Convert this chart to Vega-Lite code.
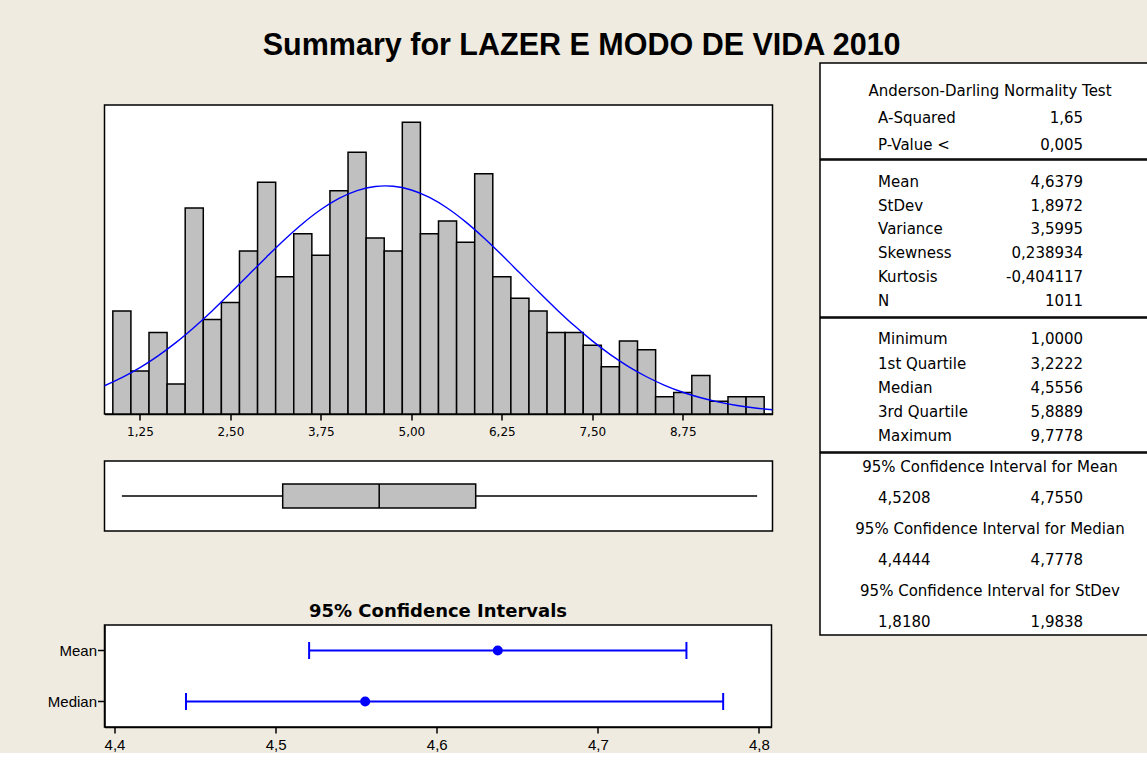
{
  "$schema": "https://vega.github.io/schema/vega-lite/v6.json",
  "background": "#EFEBE0",
  "padding": {"left": 46.5, "top": 30, "right": 0, "bottom": 0},
  "title": {"text": "Summary for LAZER E MODO DE VIDA 2010", "font": "Liberation Sans", "fontSize": 30.5, "fontWeight": "bold", "color": "black", "anchor": "middle", "offset": 1, "dx": -22},
  "config": {
    "view": {"stroke": "black", "strokeWidth": 1.5, "fill": "white"},
    "axis": {"grid": false, "domainColor": "black", "tickColor": "black", "labelColor": "black", "domainWidth": 1.5, "tickWidth": 1.5}
  },
  "datasets": {
    "hist": [
      {"bin_start": 0.875, "bin_end": 1.125, "count": 24},
      {"bin_start": 1.125, "bin_end": 1.375, "count": 10},
      {"bin_start": 1.375, "bin_end": 1.625, "count": 19},
      {"bin_start": 1.625, "bin_end": 1.875, "count": 7},
      {"bin_start": 1.875, "bin_end": 2.125, "count": 48},
      {"bin_start": 2.125, "bin_end": 2.375, "count": 22},
      {"bin_start": 2.375, "bin_end": 2.625, "count": 26},
      {"bin_start": 2.625, "bin_end": 2.875, "count": 38},
      {"bin_start": 2.875, "bin_end": 3.125, "count": 54},
      {"bin_start": 3.125, "bin_end": 3.375, "count": 32},
      {"bin_start": 3.375, "bin_end": 3.625, "count": 42},
      {"bin_start": 3.625, "bin_end": 3.875, "count": 37},
      {"bin_start": 3.875, "bin_end": 4.125, "count": 52},
      {"bin_start": 4.125, "bin_end": 4.375, "count": 61},
      {"bin_start": 4.375, "bin_end": 4.625, "count": 41},
      {"bin_start": 4.625, "bin_end": 4.875, "count": 38},
      {"bin_start": 4.875, "bin_end": 5.125, "count": 68},
      {"bin_start": 5.125, "bin_end": 5.375, "count": 42},
      {"bin_start": 5.375, "bin_end": 5.625, "count": 45},
      {"bin_start": 5.625, "bin_end": 5.875, "count": 40},
      {"bin_start": 5.875, "bin_end": 6.125, "count": 56},
      {"bin_start": 6.125, "bin_end": 6.375, "count": 32},
      {"bin_start": 6.375, "bin_end": 6.625, "count": 27},
      {"bin_start": 6.625, "bin_end": 6.875, "count": 24},
      {"bin_start": 6.875, "bin_end": 7.125, "count": 19},
      {"bin_start": 7.125, "bin_end": 7.375, "count": 19},
      {"bin_start": 7.375, "bin_end": 7.625, "count": 16},
      {"bin_start": 7.625, "bin_end": 7.875, "count": 11},
      {"bin_start": 7.875, "bin_end": 8.125, "count": 17},
      {"bin_start": 8.125, "bin_end": 8.375, "count": 15},
      {"bin_start": 8.375, "bin_end": 8.625, "count": 4},
      {"bin_start": 8.625, "bin_end": 8.875, "count": 5},
      {"bin_start": 8.875, "bin_end": 9.125, "count": 9},
      {"bin_start": 9.125, "bin_end": 9.375, "count": 3},
      {"bin_start": 9.375, "bin_end": 9.625, "count": 4},
      {"bin_start": 9.625, "bin_end": 9.875, "count": 4}
    ],
    "curve": [
      {"x": 0.76, "fit": 6.58}, {"x": 1.0, "fit": 8.46}, {"x": 1.25, "fit": 10.79}, {"x": 1.5, "fit": 13.54},
      {"x": 1.75, "fit": 16.68}, {"x": 2.0, "fit": 20.22}, {"x": 2.25, "fit": 24.07}, {"x": 2.5, "fit": 28.17},
      {"x": 2.75, "fit": 32.40}, {"x": 3.0, "fit": 36.61}, {"x": 3.25, "fit": 40.67}, {"x": 3.5, "fit": 44.40},
      {"x": 3.75, "fit": 47.64}, {"x": 4.0, "fit": 50.23}, {"x": 4.25, "fit": 52.05}, {"x": 4.5, "fit": 53.01},
      {"x": 4.64, "fit": 53.15}, {"x": 4.75, "fit": 53.06}, {"x": 5.0, "fit": 52.19}, {"x": 5.25, "fit": 50.46},
      {"x": 5.5, "fit": 47.94}, {"x": 5.75, "fit": 44.76}, {"x": 6.0, "fit": 41.07}, {"x": 6.25, "fit": 37.05},
      {"x": 6.5, "fit": 32.83}, {"x": 6.75, "fit": 28.60}, {"x": 7.0, "fit": 24.49}, {"x": 7.25, "fit": 20.60},
      {"x": 7.5, "fit": 17.03}, {"x": 7.75, "fit": 13.84}, {"x": 8.0, "fit": 11.05}, {"x": 8.25, "fit": 8.68},
      {"x": 8.5, "fit": 6.69}, {"x": 8.75, "fit": 5.07}, {"x": 9.0, "fit": 3.78}, {"x": 9.25, "fit": 2.77},
      {"x": 9.5, "fit": 1.99}, {"x": 9.75, "fit": 1.41}, {"x": 9.99, "fit": 0.99}
    ],
    "box": [
      {"var": "LAZER E MODO DE VIDA 2010", "min": 1.0, "q1": 3.2222, "median": 4.5556, "q3": 5.8889, "max": 9.7778}
    ],
    "ci": [
      {"stat": "Mean", "lo": 4.5208, "hi": 4.7550, "est": 4.6379},
      {"stat": "Median", "lo": 4.4444, "hi": 4.7778, "est": 4.5556}
    ],
    "stats": [
      {"sec": 1, "row": 1, "col": "head", "text": "Anderson-Darling Normality Test"},
      {"sec": 1, "row": 2, "col": "left", "text": "A-Squared"},
      {"sec": 1, "row": 2, "col": "right", "text": "1,65"},
      {"sec": 1, "row": 3, "col": "left", "text": "P-Value <"},
      {"sec": 1, "row": 3, "col": "right", "text": "0,005"},
      {"sec": 2, "row": 1, "col": "left", "text": "Mean"},
      {"sec": 2, "row": 1, "col": "right", "text": "4,6379"},
      {"sec": 2, "row": 2, "col": "left", "text": "StDev"},
      {"sec": 2, "row": 2, "col": "right", "text": "1,8972"},
      {"sec": 2, "row": 3, "col": "left", "text": "Variance"},
      {"sec": 2, "row": 3, "col": "right", "text": "3,5995"},
      {"sec": 2, "row": 4, "col": "left", "text": "Skewness"},
      {"sec": 2, "row": 4, "col": "right", "text": "0,238934"},
      {"sec": 2, "row": 5, "col": "left", "text": "Kurtosis"},
      {"sec": 2, "row": 5, "col": "right", "text": "-0,404117"},
      {"sec": 2, "row": 6, "col": "left", "text": "N"},
      {"sec": 2, "row": 6, "col": "right", "text": "1011"},
      {"sec": 3, "row": 1, "col": "left", "text": "Minimum"},
      {"sec": 3, "row": 1, "col": "right", "text": "1,0000"},
      {"sec": 3, "row": 2, "col": "left", "text": "1st Quartile"},
      {"sec": 3, "row": 2, "col": "right", "text": "3,2222"},
      {"sec": 3, "row": 3, "col": "left", "text": "Median"},
      {"sec": 3, "row": 3, "col": "right", "text": "4,5556"},
      {"sec": 3, "row": 4, "col": "left", "text": "3rd Quartile"},
      {"sec": 3, "row": 4, "col": "right", "text": "5,8889"},
      {"sec": 3, "row": 5, "col": "left", "text": "Maximum"},
      {"sec": 3, "row": 5, "col": "right", "text": "9,7778"},
      {"sec": 4, "row": 1, "col": "head", "text": "95% Confidence Interval for Mean"},
      {"sec": 4, "row": 2, "col": "left", "text": "4,5208"},
      {"sec": 4, "row": 2, "col": "right", "text": "4,7550"},
      {"sec": 4, "row": 3, "col": "head", "text": "95% Confidence Interval for Median"},
      {"sec": 4, "row": 4, "col": "left", "text": "4,4444"},
      {"sec": 4, "row": 4, "col": "right", "text": "4,7778"},
      {"sec": 4, "row": 5, "col": "head", "text": "95% Confidence Interval for StDev"},
      {"sec": 4, "row": 6, "col": "left", "text": "1,8180"},
      {"sec": 4, "row": 6, "col": "right", "text": "1,9838"}
    ]
  },
  "spacing": 42.5,
  "hconcat": [
    {
      "spacing": 70,
      "vconcat": [
        {
          "spacing": 22,
          "vconcat": [
            {
              "spacing": 0,
              "vconcat": [
                {
                  "width": 668,
                  "height": 41,
                  "view": {"stroke": null, "fill": null},
                  "data": {"values": []},
                  "mark": "point",
                  "encoding": {}
                },
                {
                  "width": 668,
                  "height": 309,
                  "layer": [
                    {
                      "data": {"name": "hist"},
                      "mark": {"type": "bar", "fill": "#C0C0C0", "stroke": "black", "strokeWidth": 1.5},
                      "encoding": {
                        "x": {"field": "bin_start", "type": "quantitative", "title": null,
                          "scale": {"domain": [0.76, 9.99], "nice": false, "zero": false},
                          "axis": {"values": [1.25, 2.5, 3.75, 5, 6.25, 7.5, 8.75], "labelExpr": "replace(format(datum.value, '.2f'), '.', ',')", "title": null, "tickSize": 6, "labelPadding": 6, "labelFont": "DejaVu Sans", "labelFontSize": 12}},
                        "x2": {"field": "bin_end"},
                        "y": {"field": "count", "type": "quantitative", "title": null, "scale": {"domain": [0, 72], "nice": false}, "axis": null},
                        "y2": {"datum": 0}
                      }
                    },
                    {
                      "data": {"name": "curve"},
                      "mark": {"type": "line", "color": "#0000FF", "strokeWidth": 1.4, "interpolate": "monotone"},
                      "encoding": {
                        "x": {"field": "x", "type": "quantitative", "title": null},
                        "y": {"field": "fit", "type": "quantitative", "title": null, "axis": null}
                      }
                    }
                  ]
                }
              ]
            },
            {
              "width": 668,
              "height": 70,
              "data": {"name": "box"},
              "encoding": {
                "y": {"field": "var", "type": "nominal", "axis": null, "scale": {"paddingInner": 0, "paddingOuter": 0}}
              },
              "layer": [
                {
                  "mark": {"type": "rule", "color": "black", "strokeWidth": 1.5},
                  "encoding": {
                    "x": {"field": "min", "type": "quantitative", "scale": {"domain": [0.76, 9.99], "nice": false, "zero": false}, "axis": null},
                    "x2": {"field": "max"}
                  }
                },
                {
                  "mark": {"type": "bar", "size": 24, "fill": "#C0C0C0", "stroke": "black", "strokeWidth": 1.5},
                  "encoding": {
                    "x": {"field": "q1", "type": "quantitative", "axis": null},
                    "x2": {"field": "q3"}
                  }
                },
                {
                  "mark": {"type": "tick", "orient": "vertical", "size": 24, "thickness": 1.5, "color": "black", "opacity": 1},
                  "encoding": {
                    "x": {"field": "median", "type": "quantitative", "axis": null}
                  }
                }
              ]
            }
          ]
        },
        {
          "width": 667,
          "height": 102,
          "title": {"text": "95% Confidence Intervals", "font": "DejaVu Sans", "fontSize": 18, "fontWeight": "bold", "color": "black", "frame": "group", "anchor": "middle", "offset": 4},
          "data": {"name": "ci"},
          "encoding": {
            "y": {"field": "stat", "type": "nominal", "sort": ["Mean", "Median"], "title": null,
              "scale": {"paddingInner": 0, "paddingOuter": 0},
              "axis": {"title": null, "labelFont": "Liberation Sans", "labelFontSize": 15, "tickSize": 7, "labelPadding": 1}}
          },
          "layer": [
            {
              "mark": {"type": "rule", "color": "#0000FF", "strokeWidth": 2},
              "encoding": {
                "x": {"field": "lo", "type": "quantitative", "title": null,
                  "scale": {"domain": [4.3938, 4.8078], "nice": false, "zero": false},
                  "axis": {"values": [4.4, 4.5, 4.6, 4.7, 4.8], "labelExpr": "replace(format(datum.value, '.1f'), '.', ',')", "title": null, "tickSize": 6, "labelPadding": 4, "labelFont": "Liberation Sans", "labelFontSize": 15}},
                "x2": {"field": "hi"}
              }
            },
            {
              "mark": {"type": "tick", "color": "#0000FF", "thickness": 2, "size": 17, "opacity": 1},
              "encoding": {"x": {"field": "lo", "type": "quantitative", "title": null}}
            },
            {
              "mark": {"type": "tick", "color": "#0000FF", "thickness": 2, "size": 17, "opacity": 1},
              "encoding": {"x": {"field": "hi", "type": "quantitative", "title": null}}
            },
            {
              "mark": {"type": "point", "filled": true, "size": 100, "color": "#0000FF", "opacity": 1},
              "encoding": {"x": {"field": "est", "type": "quantitative", "title": null}}
            }
          ]
        }
      ]
    },
    {
      "spacing": -1.5,
      "vconcat": [
        {
          "width": 340, "height": 96,
          "data": {"name": "stats"},
          "transform": [{"filter": "datum.sec == 1"}],
          "encoding": {"y": {"field": "row", "type": "ordinal", "axis": null, "scale": {"type": "band", "paddingInner": 0, "paddingOuter": 0.278, "align": 0.967}}},
          "layer": [
            {"transform": [{"filter": "datum.col == 'head'"}], "mark": {"type": "text", "font": "DejaVu Sans", "fontSize": 15, "align": "center", "baseline": "middle", "color": "black"}, "encoding": {"text": {"field": "text"}}},
            {"transform": [{"filter": "datum.col == 'left'"}], "mark": {"type": "text", "font": "DejaVu Sans", "fontSize": 15, "align": "left", "baseline": "middle", "color": "black"}, "encoding": {"x": {"field": "col", "type": "nominal", "axis": null, "bandPosition": 0.5, "scale": {"type": "band", "domain": ["left", "right"], "paddingInner": 0.434, "paddingOuter": 0.046, "align": 0}}, "text": {"field": "text"}}},
            {"transform": [{"filter": "datum.col == 'right'"}], "mark": {"type": "text", "font": "DejaVu Sans", "fontSize": 15, "align": "right", "baseline": "middle", "color": "black"}, "encoding": {"x": {"field": "col", "type": "nominal", "axis": null, "bandPosition": 0.5}, "text": {"field": "text"}}}
          ]
        },
        {
          "width": 340, "height": 157,
          "data": {"name": "stats"},
          "transform": [{"filter": "datum.sec == 2"}],
          "encoding": {"y": {"field": "row", "type": "ordinal", "axis": null, "scale": {"type": "band", "paddingInner": 0, "paddingOuter": 0.3, "align": 0.7}}},
          "layer": [
            {"transform": [{"filter": "datum.col == 'left'"}], "mark": {"type": "text", "font": "DejaVu Sans", "fontSize": 15, "align": "left", "baseline": "middle", "color": "black"}, "encoding": {"x": {"field": "col", "type": "nominal", "axis": null, "bandPosition": 0.5, "scale": {"type": "band", "domain": ["left", "right"], "paddingInner": 0.434, "paddingOuter": 0.046, "align": 0}}, "text": {"field": "text"}}},
            {"transform": [{"filter": "datum.col == 'right'"}], "mark": {"type": "text", "font": "DejaVu Sans", "fontSize": 15, "align": "right", "baseline": "middle", "color": "black"}, "encoding": {"x": {"field": "col", "type": "nominal", "axis": null, "bandPosition": 0.5}, "text": {"field": "text"}}}
          ]
        },
        {
          "width": 340, "height": 134,
          "data": {"name": "stats"},
          "transform": [{"filter": "datum.sec == 3"}],
          "encoding": {"y": {"field": "row", "type": "ordinal", "axis": null, "scale": {"type": "band", "paddingInner": 0, "paddingOuter": 0.27, "align": 0.72}}},
          "layer": [
            {"transform": [{"filter": "datum.col == 'left'"}], "mark": {"type": "text", "font": "DejaVu Sans", "fontSize": 15, "align": "left", "baseline": "middle", "color": "black"}, "encoding": {"x": {"field": "col", "type": "nominal", "axis": null, "bandPosition": 0.5, "scale": {"type": "band", "domain": ["left", "right"], "paddingInner": 0.434, "paddingOuter": 0.046, "align": 0}}, "text": {"field": "text"}}},
            {"transform": [{"filter": "datum.col == 'right'"}], "mark": {"type": "text", "font": "DejaVu Sans", "fontSize": 15, "align": "right", "baseline": "middle", "color": "black"}, "encoding": {"x": {"field": "col", "type": "nominal", "axis": null, "bandPosition": 0.5}, "text": {"field": "text"}}}
          ]
        },
        {
          "width": 340, "height": 182,
          "data": {"name": "stats"},
          "transform": [{"filter": "datum.sec == 4"}],
          "encoding": {"y": {"field": "row", "type": "ordinal", "axis": null, "scale": {"type": "band", "paddingInner": 0.2, "paddingOuter": 0.035, "align": 0.73}}},
          "layer": [
            {"transform": [{"filter": "datum.col == 'head'"}], "mark": {"type": "text", "font": "DejaVu Sans", "fontSize": 15, "align": "center", "baseline": "middle", "color": "black"}, "encoding": {"text": {"field": "text"}}},
            {"transform": [{"filter": "datum.col == 'left'"}], "mark": {"type": "text", "font": "DejaVu Sans", "fontSize": 15, "align": "left", "baseline": "middle", "color": "black"}, "encoding": {"x": {"field": "col", "type": "nominal", "axis": null, "bandPosition": 0.5, "scale": {"type": "band", "domain": ["left", "right"], "paddingInner": 0.434, "paddingOuter": 0.046, "align": 0}}, "text": {"field": "text"}}},
            {"transform": [{"filter": "datum.col == 'right'"}], "mark": {"type": "text", "font": "DejaVu Sans", "fontSize": 15, "align": "right", "baseline": "middle", "color": "black"}, "encoding": {"x": {"field": "col", "type": "nominal", "axis": null, "bandPosition": 0.5}, "text": {"field": "text"}}}
          ]
        }
      ]
    }
  ]
}
